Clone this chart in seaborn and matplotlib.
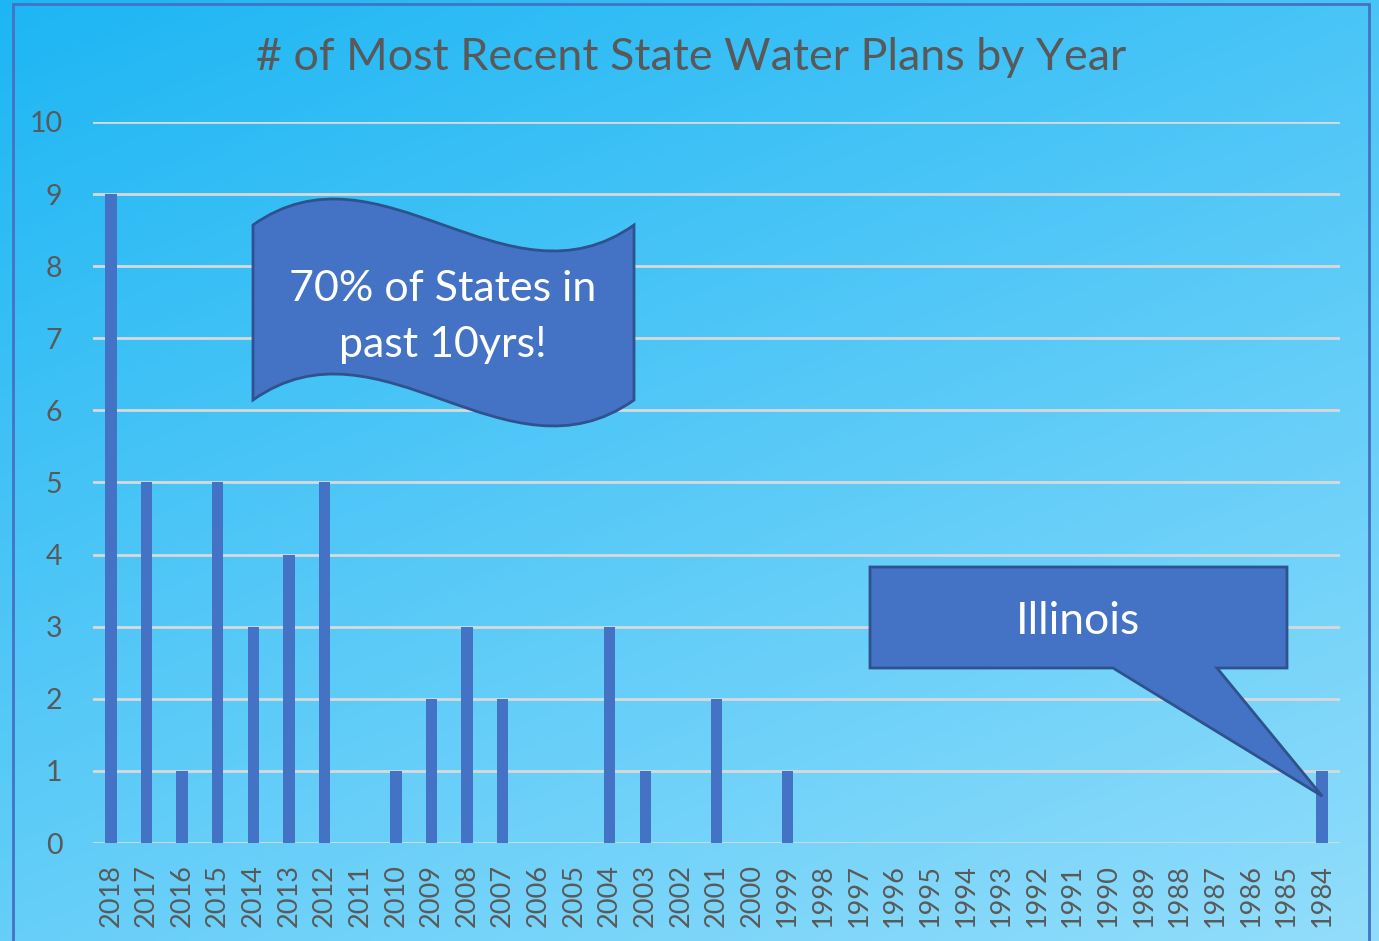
import numpy as np
import pandas as pd
import matplotlib
matplotlib.use("Agg")
import matplotlib.pyplot as plt
import seaborn as sns
from matplotlib.path import Path
from matplotlib.patches import PathPatch, Rectangle, Polygon

years = [str(y) for y in range(2018, 1983, -1)]
plans = [9, 5, 1, 5, 3, 4, 5, 0, 1, 2, 3, 2, 0, 0, 3, 1, 0, 2, 0, 1,
         0, 0, 0, 0, 0, 0, 0, 0, 0, 0, 0, 0, 0, 0, 1]
y_ticks = list(range(0, 11))
title = "# of Most Recent State Water Plans by Year"
wave_text = "70% of States in\npast 10yrs!"
callout_text = "Illinois"

df = pd.DataFrame({"year": years, "plans": plans})

sns.set_theme(style="white")
plt.rcParams['font.family'] = ['Lato', 'DejaVu Sans']

W, H = 1379, 941
fig = plt.figure(figsize=(W / 100, H / 100), dpi=100)

# gradient background
bg = fig.add_axes([0, 0, 1, 1], zorder=-10)
gx, gy = np.meshgrid(np.linspace(0, 1, 300), np.linspace(0, 1, 300))
t = np.clip((gx * 0.45 + gy * 0.75) / 1.2, 0, 1)
c0 = np.array([0x1d, 0xb6, 0xf4]) / 255
c1 = np.array([0x92, 0xdd, 0xfb]) / 255
img = c0[None, None, :] * (1 - t[..., None]) + c1[None, None, :] * t[..., None]
bg.imshow(img, aspect="auto", extent=[0, 1, 0, 1], origin="upper")
bg.axis("off")

def fx(px):
    return px / W

def fy(py):
    return 1 - py / H

ax = fig.add_axes([fx(93), fy(843), fx(1340) - fx(93), fy(122) - fy(843)])
ax.set_facecolor("none")
sns.barplot(data=df, x="year", y="plans", order=years, color="#4472c4",
            saturation=1, width=0.32, linewidth=0, ax=ax, zorder=3)
ax.set_ylim(0, 10)
ax.set_xlim(-0.5, len(years) - 0.5)
ax.set_yticks(y_ticks)
ax.set_yticklabels([str(v) for v in y_ticks])
ax.grid(axis="y", color="#d9d9d9", linewidth=2, zorder=0)
ax.set_axisbelow(True)
for s in ["top", "right", "left", "bottom"]:
    ax.spines[s].set_visible(False)
ax.tick_params(axis="y", length=0, pad=22, labelsize=20.5, labelcolor="#595959")
ax.tick_params(axis="x", length=0, pad=15, labelsize=19.5, labelcolor="#595959",
               labelrotation=90)
ax.set_xlabel("")
ax.set_ylabel("")

fig.text(fx(691), fy(58), title, ha="center", va="center", fontsize=32.3,
         color="#595959")

# frame
fig.patches.append(Rectangle((fx(13), fy(950)), fx(1369) - fx(13), fy(4) - fy(950),
                             transform=fig.transFigure, fill=False,
                             edgecolor="#4472c4", linewidth=2, zorder=5))

# wave shape
def P(x, y):
    return (fx(x), fy(y))

verts = [P(253, 225), P(380, 135), P(507, 315), P(634, 225),
         P(634, 400),
         P(507, 490), P(380, 310), P(253, 400),
         P(253, 225)]
codes = [Path.MOVETO, Path.CURVE4, Path.CURVE4, Path.CURVE4,
         Path.LINETO,
         Path.CURVE4, Path.CURVE4, Path.CURVE4,
         Path.CLOSEPOLY]
wave = PathPatch(Path(verts, codes), transform=fig.transFigure,
                 facecolor="#4472c4", edgecolor="#2f528f", linewidth=2, zorder=6)
fig.patches.append(wave)
fig.text(fx(443), fy(317), wave_text, ha="center", va="center", fontsize=31,
         color="white", linespacing=1.55, zorder=7)

# rectangular callout pointing to 1984 bar
tip_disp = ax.transData.transform((len(years) - 1, 0.65))
tip_fig = fig.transFigure.inverted().transform(tip_disp)
poly = [P(870, 567), P(1287, 567), P(1287, 668), P(1217, 668),
        tuple(tip_fig), P(1113, 668), P(870, 668)]
fig.patches.append(Polygon(poly, closed=True, transform=fig.transFigure,
                           facecolor="#4472c4", edgecolor="#2f528f",
                           linewidth=2, zorder=6))
fig.text(fx(1078), fy(621), callout_text, ha="center", va="center",
         fontsize=32, color="white", zorder=7)

fig.savefig("out.png", dpi=100)
